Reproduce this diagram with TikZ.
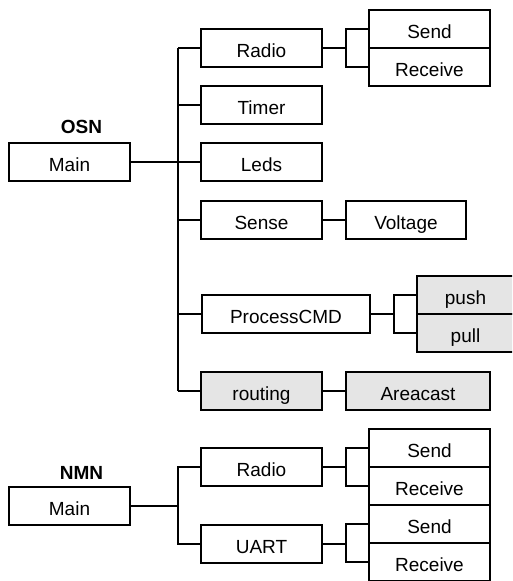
\documentclass[tikz,border=0pt]{standalone}
\usepackage{fontspec}
\setmainfont{Liberation Sans}
\usetikzlibrary{positioning}

\tikzset{
  blk/.style={draw, line width=1.3pt, minimum width=121pt, minimum height=38pt,
    inner sep=0pt, text height=19.6pt, text depth=0pt, font=\fontsize{19}{22}\selectfont},
  shd/.style={blk, fill=black!10},
  lbl/.style={font=\fontsize{19}{22}\selectfont\bfseries},
  wire/.style={line width=1.3pt}
}

\begin{document}
\begin{tikzpicture}[x=1pt, y=-1pt]
      \useasboundingbox (0,0) rectangle (512,581);
      \clip (0,0) rectangle (512,581);

      % OSN tree
      \node[blk] (OMain) at (69.5,162) {Main};
      \node[lbl] (OSN) at (81.5,127) {OSN};
      \node[blk, on grid, right=192pt of OMain] (OLeds) {Leds};
      \node[blk, on grid, above=57pt of OLeds] (OTimer) {Timer};
      \node[blk, on grid, above=57pt of OTimer] (ORadio) {Radio};
      \node[blk, on grid, below=58pt of OLeds] (OSense) {Sense};
      \node[blk, minimum width=168pt] (OProc) at (286,314) {ProcessCMD};
      \node[shd, on grid, below=229pt of OLeds] (ORouting) {routing};

      \node[blk, on grid, above right=19pt and 168pt of ORadio] (OSend) {Send};
      \node[blk, on grid, below=38pt of OSend] (OReceive) {Receive};
      \node[blk, on grid, right=144.5pt of OSense, minimum width=120pt] (OVolt) {Voltage};
      \node[shd, minimum width=97pt] (OPush) at (465.5,295) {push};
      \node[shd, on grid, below=38pt of OPush, minimum width=97pt] (OPull) {pull};
      \node[shd, minimum width=144pt] (OArea) at (418,391) {Areacast};

      \coordinate (OBus) at (178,0);
      \coordinate (OFork) at (346,0);
      \coordinate (PFork) at (394,0);
      \draw[wire] (OMain) -- (OMain -| OBus);
      \draw[wire] (ORadio -| OBus) -- (ORouting -| OBus);
      \foreach \n in {ORadio,OTimer,OLeds,OSense,OProc,ORouting}
        \draw[wire] (\n) -- (\n -| OBus);
      \draw[wire] (ORadio) -- (ORadio -| OFork);
      \draw[wire] (OSend) -- (OSend -| OFork) -- (OReceive -| OFork) -- (OReceive);
      \draw[wire] (OSense) -- (OVolt);
      \draw[wire] (OProc) -- (OProc -| PFork);
      \draw[wire] (OPush) -- (OPush -| PFork) -- (OPull -| PFork) -- (OPull);
      \draw[wire] (ORouting) -- (OArea);

      % NMN tree
      \node[blk] (NMain) at (69.5,506) {Main};
      \node[lbl] (NMN) at (81.5,472.5) {NMN};
      \node[blk] (NRadio) at (261.5,467) {Radio};
      \node[blk, on grid, below=77pt of NRadio] (NUart) {UART};
      \node[blk] (NSendA) at (429.5,448) {Send};
      \node[blk, on grid, below=38pt of NSendA] (NRecvA) {Receive};
      \node[blk, on grid, below=38pt of NRecvA] (NSendB) {Send};
      \node[blk, on grid, below=38pt of NSendB] (NRecvB) {Receive};

      \coordinate (NBus) at (178,0);
      \coordinate (NFork) at (346,0);
      \draw[wire] (NMain) -- (NMain -| NBus);
      \draw[wire] (NRadio) -- (NRadio -| NBus) -- (NUart -| NBus) -- (NUart);
      \draw[wire] (NRadio) -- (NRadio -| NFork);
      \draw[wire] (NSendA) -- (NSendA -| NFork) -- (NRecvA -| NFork) -- (NRecvA);
      \draw[wire] (NUart) -- (NUart -| NFork);
      \draw[wire] (NSendB) -- (NSendB -| NFork) -- (NRecvB -| NFork) -- (NRecvB);
\end{tikzpicture}
\end{document}
